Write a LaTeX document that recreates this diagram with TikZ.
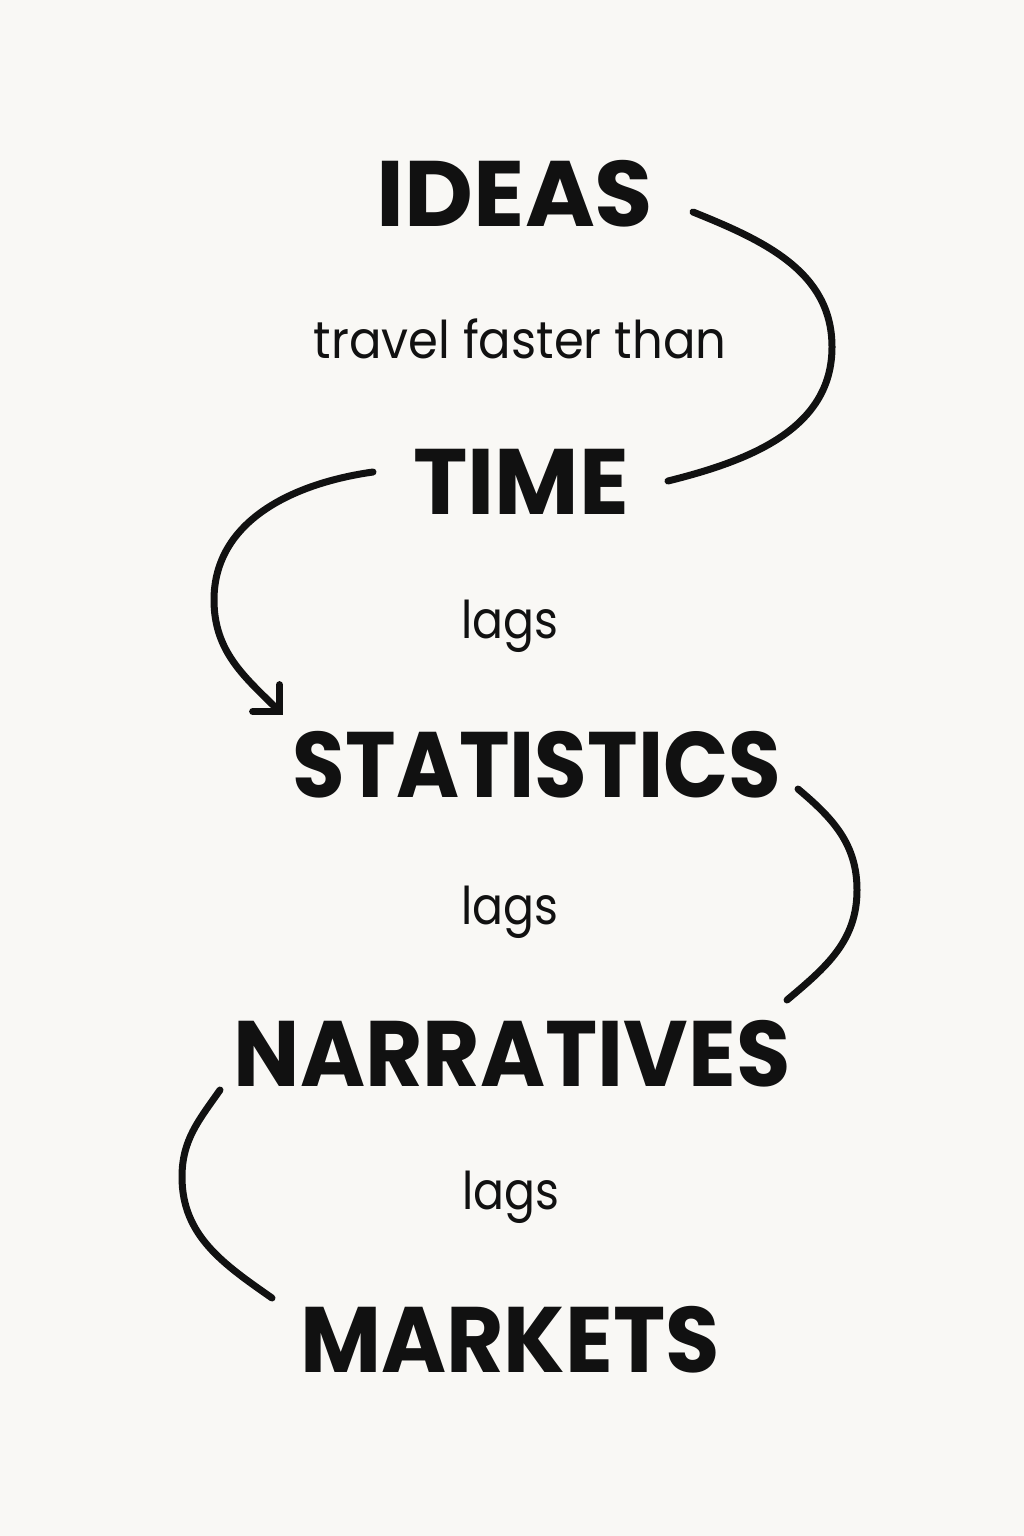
\documentclass[tikz,border=0pt]{standalone}
\usepackage{fontspec}
\setmainfont{Poppins}
\usetikzlibrary{arrows.meta}
\definecolor{bg}{HTML}{F9F8F5}
\definecolor{ink}{HTML}{111111}
\tikzset{
  big/.style={anchor=base, text=ink, inner sep=0pt, font=\fontsize{93}{93}\selectfont\bfseries},
  small/.style={anchor=base, text=ink, inner sep=0pt, font=\fontsize{52}{52}\selectfont},
  curve/.style={draw=ink, line width=7pt, line cap=round},
}
\newcommand{\sx}[2]{\scalebox{#1}[1]{#2}}
\begin{document}
\begin{tikzpicture}[x=1pt,y=-1pt]
\fill[bg] (0,0) rectangle (1024,1536);
\useasboundingbox (0,0) rectangle (1024,1536);

\node[big] (ideas) at (515,226) {\sx{1.02}{IDEAS}};
\node[small] (travel) at (520,358) {\sx{0.925}{travel faster than}};
\node[big] (time) at (521,514) {\sx{0.99}{TIME}};
\node[small] (lags1) at (510,638) {\sx{0.88}{lags}};
\node[big] (stats) at (537,797) {\sx{0.92}{STATISTICS}};
\node[small] (lags2) at (510,924) {\sx{0.88}{lags}};
\node[big] (narr) at (512,1086) {\sx{0.95}{NARRATIVES}};
\node[small] (lags3) at (511,1209) {\sx{0.88}{lags}};
\node[big] (markets) at (510,1372) {\sx{0.95}{MARKETS}};

% curve 1: IDEAS -> TIME
\coordinate (a1) at (693,212);
\coordinate (a2) at (832,347);
\coordinate (a3) at (668,481);
\draw[curve] (a1) to[out=-22,in=90] (a2) to[out=-90,in=14] (a3);

% curve 2: TIME -> STATISTICS (arrow)
\coordinate (b1) at (373,472);
\coordinate (b2) at (214,600);
\coordinate (b3) at (283,715);
\draw[curve, -{Straight Barb[length=19pt,width=38pt,line cap=round]}] (b1) to[out=188,in=90] (b2) to[out=-90,in=135] (b3);

% curve 3: STATISTICS -> NARRATIVES
\coordinate (c1) at (798,789);
\coordinate (c2) at (857,890);
\coordinate (c3) at (787,1000);
\draw[curve] (c1) to[out=-40,in=90] (c2) to[out=-90,in=40] (c3);

% curve 4: NARRATIVES -> MARKETS
\coordinate (d1) at (220,1090);
\coordinate (d2) at (182,1177);
\coordinate (d3) at (272,1298);
\draw[curve] (d1) to[out=235,in=90] (d2) to[out=-90,in=145] (d3);
\end{tikzpicture}
\end{document}
